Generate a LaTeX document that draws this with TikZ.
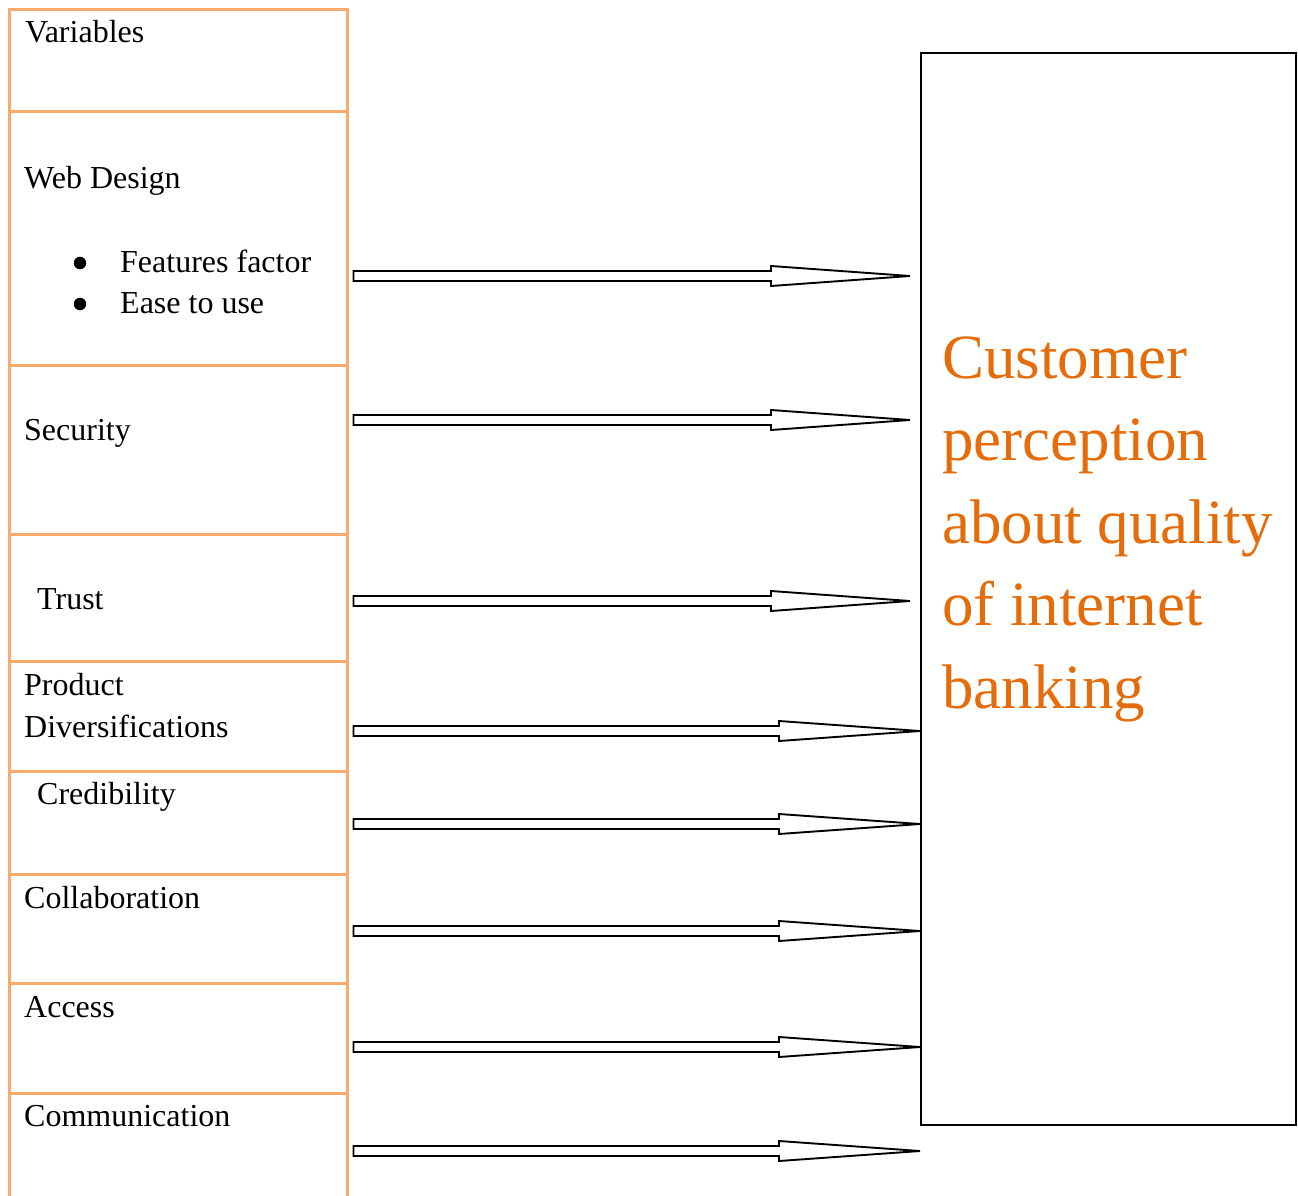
\documentclass[tikz,border=0pt]{standalone}
\usepackage{fontspec}
\setmainfont{Liberation Serif}
\usetikzlibrary{calc}
\definecolor{tblorange}{RGB}{247,172,108}
\definecolor{txtorange}{RGB}{228,108,10}
\newcommand\hollowarrow[3]{%
  \draw[arrowline] let \p1=(#1), \p2=(#2) in
    (\x1,\y1-5) -- (\x2-#3,\y1-5) -- (\x2-#3,\y1-10) -- (\x2,\y2) --
    (\x2-#3,\y1+10) -- (\x2-#3,\y1+5) -- (\x1,\y1+5) -- cycle;}
\begin{document}
\begin{tikzpicture}[x=1pt,y=-1pt,
  cell/.style={font=\fontsize{32}{42}\selectfont, anchor=base west, inner sep=0},
  bul/.style={circle, fill=black, inner sep=0, minimum size=12.5pt},
  tbl/.style={draw=tblorange, line width=3pt},
  arrowline/.style={draw=black, line width=1.9pt, fill=white, line join=miter},
  bigbox/.style={draw=black, line width=1.9pt, minimum width=375pt, minimum height=1072pt, inner sep=0, anchor=north west},
  bigtext/.style={font=\fontsize{63}{82.5}\selectfont, text=txtorange, align=left, anchor=base west, inner sep=0}]
\useasboundingbox (0,0) rectangle (1298,1196);

% table
\draw[tbl] (9,1197) -- (9,9.3) -- (347.7,9.3) -- (347.7,1197);
\foreach \yy in {112,365,534,661,771,874,983,1093}
  \draw[tbl] (9,\yy) -- (347.7,\yy);

% row texts
\node[cell] (var) at (25,43) {Variables};
\node[cell] (web) at (24,188) {Web Design};
\node[bul] (b1) at (80,263) {};
\node[cell] (feat) at (120,272) {Features factor};
\node[bul] (b2) at (80,304) {};
\node[cell] (ease) at (120,313) {Ease to use};
\node[cell] (sec) at (24,440) {Security};
\node[cell] (tru) at (37,609) {Trust};
\node[cell] (prod) at (24,695) {Product};
\node[cell] (div) at (24,737) {Diversifications};
\node[cell] (cred) at (37,804) {Credibility};
\node[cell] (coll) at (24,908) {Collaboration};
\node[cell] (acc) at (24,1017) {Access};
\node[cell] (comm) at (24,1126) {Communication};

% outcome box
\node[bigbox] (perc) at (920,51.7) {};
\node[bigtext] (perctext) at (942,708) {Customer\\perception\\about quality\\of internet\\banking};

% arrow end points
\foreach \n/\yy/\tx in {1/276/910,2/420/910,3/601/910,4/731/920,5/824/920,6/931/920,7/1047/920,8/1151/920}{
  \coordinate (s\n) at (353.5,\yy);
  \coordinate (t\n) at (\tx,\yy);
}
\hollowarrow{s1}{t1}{139}
\hollowarrow{s2}{t2}{139}
\hollowarrow{s3}{t3}{139}
\hollowarrow{s4}{t4}{141}
\hollowarrow{s5}{t5}{141}
\hollowarrow{s6}{t6}{141}
\hollowarrow{s7}{t7}{141}
\hollowarrow{s8}{t8}{141}
\end{tikzpicture}
\end{document}
